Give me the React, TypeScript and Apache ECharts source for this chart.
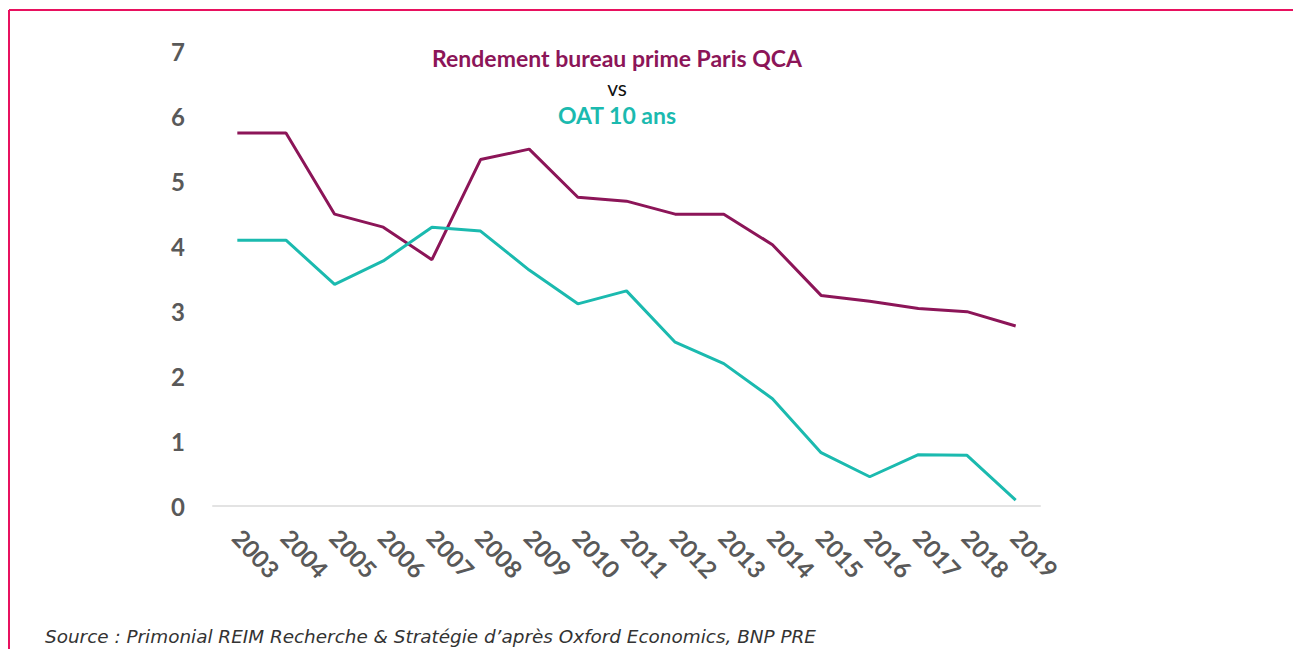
import React, { useEffect, useRef } from "react";
import * as echarts from "echarts";

const years = ["2003","2004","2005","2006","2007","2008","2009","2010","2011","2012","2013","2014","2015","2016","2017","2018","2019"];
const rendementBureau = [5.74, 5.74, 4.49, 4.29, 3.79, 5.33, 5.49, 4.75, 4.69, 4.49, 4.49, 4.02, 3.24, 3.15, 3.04, 2.99, 2.77];
const oat10 = [4.09, 4.09, 3.41, 3.77, 4.29, 4.23, 3.63, 3.11, 3.31, 2.52, 2.19, 1.65, 0.82, 0.45, 0.79, 0.78, 0.09];
const yTicks = [0, 1, 2, 3, 4, 5, 6, 7];

const MAGENTA = "#8C1558";
const TEAL = "#1BBAAF";
const GREY = "#595959";

export default function App() {
  const ref = useRef<HTMLDivElement>(null);
  useEffect(() => {
    if (!ref.current) return;
    const chart = echarts.init(ref.current, null, { renderer: "svg" });
    chart.setOption({
      animation: false,
      backgroundColor: "#ffffff",
      grid: { left: 213, right: 253, top: 51, bottom: 143, containLabel: false },
      xAxis: {
        type: "category",
        data: years,
        boundaryGap: true,
        axisLine: { show: true, lineStyle: { color: "#e3e3e3", width: 2 } },
        axisTick: { show: false },
        axisLabel: {
          rotate: -47,
          margin: 27,
          color: GREY,
          fontFamily: "Lato",
          fontWeight: "bold",
          fontSize: 24,
          interval: 0,
        },
      },
      yAxis: {
        type: "value",
        min: yTicks[0],
        max: yTicks[yTicks.length - 1],
        interval: 1,
        axisLine: { show: false },
        axisTick: { show: false },
        splitLine: { show: false },
        axisLabel: {
          margin: 28,
          color: GREY,
          fontFamily: "Lato",
          fontWeight: "bold",
          fontSize: 24,
        },
      },
      graphic: [
        { type: "line", shape: { x1: 9, y1: 10, x2: 1293, y2: 10 }, style: { stroke: "#E8115F", lineWidth: 2 } },
        { type: "line", shape: { x1: 9, y1: 10, x2: 9, y2: 649 }, style: { stroke: "#E8115F", lineWidth: 2 } },
        {
          type: "text", x: 617, y: 58,
          style: { text: "Rendement bureau prime Paris QCA", fill: MAGENTA, font: "bold 23px Lato", align: "center", verticalAlign: "middle" },
        },
        {
          type: "text", x: 617, y: 87,
          style: { text: "vs", fill: "#111111", font: "21px Lato", align: "center", verticalAlign: "middle" },
        },
        {
          type: "text", x: 617, y: 115,
          style: { text: "OAT 10 ans", fill: TEAL, font: "bold 23px Lato", align: "center", verticalAlign: "middle" },
        },
        {
          type: "text", x: 45, y: 636,
          style: { text: "Source : Primonial REIM Recherche & Stratégie d\u2019après Oxford Economics, BNP PRE", fill: "#333333", font: "oblique 18.4px 'DejaVu Sans'", align: "left", verticalAlign: "middle" },
        },
      ],
      series: [
        {
          name: "Rendement bureau prime Paris QCA",
          type: "line",
          data: rendementBureau,
          symbol: "none",
          lineStyle: { color: MAGENTA, width: 3 },
          itemStyle: { color: MAGENTA },
        },
        {
          name: "OAT 10 ans",
          type: "line",
          data: oat10,
          symbol: "none",
          lineStyle: { color: TEAL, width: 3 },
          itemStyle: { color: TEAL },
        },
      ],
    });
    return () => chart.dispose();
  }, []);
  return <div ref={ref} style={{ position: "fixed", left: 0, top: 0, width: 1293, height: 649 }} />;
}
